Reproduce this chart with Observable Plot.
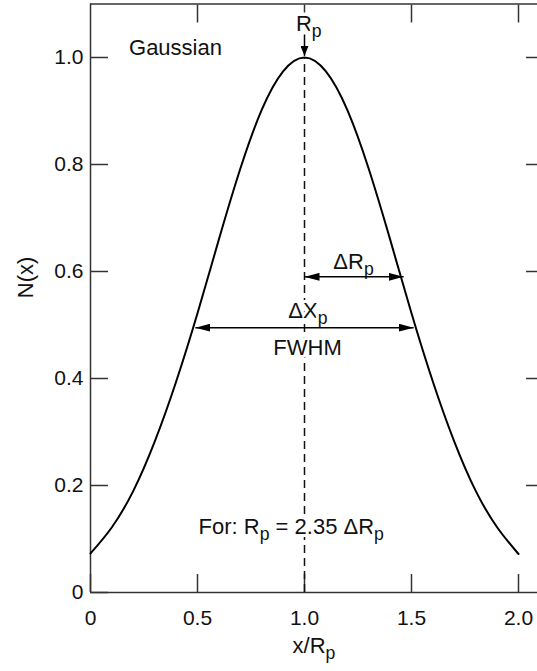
<!DOCTYPE html>
<html>
<head>
<meta charset="utf-8">
<script src="https://cdn.jsdelivr.net/npm/d3@7"></script>
<script src="https://cdn.jsdelivr.net/npm/@observablehq/plot@0.6"></script>
<style>
  html, body { margin: 0; padding: 0; background: #fff; }
  #chart svg { display: block; }
</style>
</head>
<body>
<div id="chart"></div>
<script>
// ---- data ----
const xValues = [0, 0.1, 0.2, 0.3, 0.4, 0.5, 0.6, 0.7, 0.8, 0.9, 1.0, 1.1, 1.2, 1.3, 1.4, 1.5, 1.6, 1.7, 1.8, 1.9, 2.0];
const nValues = [0.073, 0.122, 0.19, 0.282, 0.394, 0.522, 0.66, 0.792, 0.902, 0.974, 1.0, 0.974, 0.902, 0.792, 0.66, 0.522, 0.394, 0.282, 0.19, 0.122, 0.072];

const xTicks = [0, 0.5, 1.0, 1.5, 2.0];
const yTicks = [0, 0.2, 0.4, 0.6, 0.8, 1.0];
const xTickLabels = ["0", "0.5", "1.0", "1.5", "2.0"];
const yTickLabels = ["0", "0.2", "0.4", "0.6", "0.8", "1.0"];

const xLabel = ["x/R_p"];
const yLabel = ["N(x)"];

const peakX = [1.0];
const peakN = [1.0];

const noteText   = ["Gaussian", "R_p", "ΔR_p", "ΔX_p", "FWHM", "For: R_p = 2.35 ΔR_p"];
const noteX      = [0.18, 1.02, 1.229, 1.016, 1.014, 0.505];
const noteY      = [1.017, 1.062, 0.617, 0.527, 0.458, 0.123];
const noteAnchor = ["start", "middle", "middle", "middle", "middle", "start"];

// arrows
const spanArrows = [
  {x1: 1.0, y1: 0.59, x2: 1.463, y2: 0.59},   // ΔRp
  {x1: 0.49, y1: 0.495, x2: 1.51, y2: 0.495}  // FWHM
];
const peakArrow = [{x1: 1.0, y1: 1.043, x2: 1.0, y2: 1.003}];

// ---- layout ----
const W = 537, H = 671;
const mLeft = 90, mRight = 0, mTop = 3.5, mBottom = 79;
const xMax = 2 * (W - mLeft) / (518 - mLeft);
const yMax = 1.1;

const curve = xValues.map((x, i) => ({x, n: nValues[i]}));
const notes = noteText.map((t, i) => ({t, x: noteX[i], y: noteY[i], a: noteAnchor[i]}));

const frameColor = "#333";
const font = "'Liberation Sans', Arial, Helvetica, sans-serif";
const noteStyle = {x: "x", y: "y", text: "t", fontSize: 22, fill: "#111", stroke: "#fff", strokeWidth: 6, paintOrder: "stroke"};

const chart = Plot.plot({
  width: W,
  height: H,
  marginLeft: mLeft,
  marginRight: mRight,
  marginTop: mTop,
  marginBottom: mBottom,
  style: {fontFamily: font, fontSize: "21px", color: "#111", background: "#fff"},
  x: {domain: [0, xMax]},
  y: {domain: [0, yMax]},
  marks: [
    // frame (left, bottom, top)
    Plot.ruleX([0], {stroke: frameColor, strokeWidth: 1.5}),
    Plot.ruleY([0, yMax], {stroke: frameColor, strokeWidth: 1.5}),
    // axes (inward ticks)
    Plot.axisX(xTicks, {anchor: "bottom", tickSize: -18, tickPadding: 36, stroke: frameColor, strokeWidth: 1.5,
      tickFormat: d => xTickLabels[xTicks.indexOf(d)], label: null, fontSize: 21}),
    Plot.axisX([0.5, 1.5, 2.0], {anchor: "top", tickSize: -18, stroke: frameColor, strokeWidth: 1.5, tickFormat: () => "", label: null}),
    Plot.axisX([1.0], {anchor: "top", tickSize: -8, stroke: frameColor, strokeWidth: 1.5, tickFormat: () => "", label: null}),
    Plot.axisY(yTicks, {anchor: "left", tickSize: -18, tickPadding: 25, stroke: frameColor, strokeWidth: 1.5,
      tickFormat: d => yTickLabels[yTicks.indexOf(d)], label: null, fontSize: 21}),
    Plot.axisY(yTicks.slice(1), {anchor: "right", tickSize: -12, stroke: frameColor, strokeWidth: 1.5, tickFormat: () => "", label: null}),
    // axis titles
    Plot.text(yLabel, {text: d => d, frameAnchor: "left", dx: -65, rotate: -90, fontSize: 22}),
    Plot.text(xLabel, {text: d => d, frameAnchor: "bottom", dy: 60, fontSize: 22}),
    // dashed centre line
    Plot.ruleX(peakX, {x: d => d, y1: 0, y2: (d, i) => peakN[i], stroke: "#111", strokeWidth: 1.5, strokeDasharray: "8,5"}),
    // Gaussian curve
    Plot.line(curve, {x: "x", y: "n", curve: "natural", stroke: "#000", strokeWidth: 2}),
    // annotations
    Plot.text(notes.filter(d => d.a === "start"), {...noteStyle, textAnchor: "start"}),
    Plot.text(notes.filter(d => d.a === "middle"), {...noteStyle, textAnchor: "middle"}),
    // arrows
    Plot.link(spanArrows, {x1: "x1", y1: "y1", x2: "x2", y2: "y2", stroke: "#000", strokeWidth: 1.5, ariaDescription: "span-arrow"}),
    Plot.link(peakArrow, {x1: "x1", y1: "y1", x2: "x2", y2: "y2", stroke: "#000", strokeWidth: 1.5, ariaDescription: "peak-arrow"})
  ]
});

// arrowheads (filled triangles)
const svg = d3.select(chart);
const defs = svg.insert("defs", ":first-child");
defs.append("marker").attr("id", "ahSpan").attr("viewBox", "0 0 15 8").attr("refX", 15).attr("refY", 4)
  .attr("markerWidth", 15).attr("markerHeight", 8).attr("markerUnits", "userSpaceOnUse")
  .attr("orient", "auto-start-reverse")
  .append("path").attr("d", "M0,0L15,4L0,8Z").attr("fill", "#000").attr("stroke", "none");
defs.append("marker").attr("id", "ahPeak").attr("viewBox", "0 0 10 8").attr("refX", 10).attr("refY", 4)
  .attr("markerWidth", 10).attr("markerHeight", 8).attr("markerUnits", "userSpaceOnUse")
  .attr("orient", "auto")
  .append("path").attr("d", "M0,0L10,4L0,8Z").attr("fill", "#000").attr("stroke", "none");
svg.selectAll('[aria-description="span-arrow"] path')
  .attr("marker-start", "url(#ahSpan)").attr("marker-end", "url(#ahSpan)");
svg.selectAll('[aria-description="peak-arrow"] path')
  .attr("marker-end", "url(#ahPeak)");

// subscripts: "_p" -> lowered smaller p
svg.selectAll("text").each(function () {
  const el = this;
  const s = el.textContent;
  if (!s || s.indexOf("_") < 0) return;
  const parts = s.split(/_(\w)/);
  while (el.firstChild) el.removeChild(el.firstChild);
  const ns = "http://www.w3.org/2000/svg";
  let lowered = false;
  parts.forEach((p, i) => {
    if (p === "" && i % 2 === 0) return;
    const ts = document.createElementNS(ns, "tspan");
    ts.textContent = p;
    if (i % 2 === 1) {
      ts.setAttribute("dy", "6");
      ts.setAttribute("font-size", "0.8em");
      lowered = true;
    } else if (lowered) {
      ts.setAttribute("dy", "-6");
      lowered = false;
    }
    el.appendChild(ts);
  });
});

document.getElementById("chart").appendChild(chart);
</script>
</body>
</html>
